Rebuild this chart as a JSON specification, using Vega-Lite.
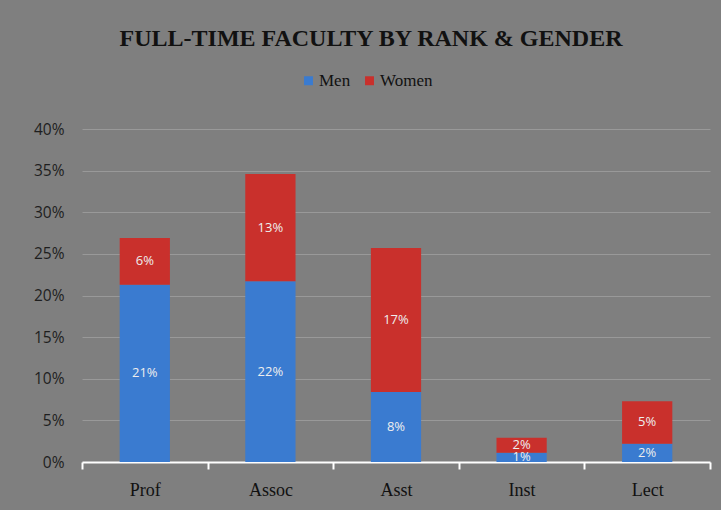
{
  "$schema": "https://vega.github.io/schema/vega-lite/v6.json",
  "width": 628,
  "height": 333,
  "autosize": {"type": "none"},
  "padding": {"left": 82, "top": 129, "right": 11, "bottom": 48},
  "background": "#7f7f7f",
  "config": {"view": {"stroke": null}},
  "title": {
    "text": "FULL-TIME FACULTY BY RANK & GENDER",
    "font": "Liberation Serif",
    "fontSize": 24,
    "fontWeight": "bold",
    "color": "#111111",
    "anchor": "middle",
    "dx": -25,
    "offset": 21
  },
  "data": {
    "values": [
      {"rank": "Prof", "gender": "Men", "share": 0.213},
      {"rank": "Prof", "gender": "Women", "share": 0.056},
      {"rank": "Assoc", "gender": "Men", "share": 0.217},
      {"rank": "Assoc", "gender": "Women", "share": 0.129},
      {"rank": "Asst", "gender": "Men", "share": 0.084},
      {"rank": "Asst", "gender": "Women", "share": 0.173},
      {"rank": "Inst", "gender": "Men", "share": 0.011},
      {"rank": "Inst", "gender": "Women", "share": 0.018},
      {"rank": "Lect", "gender": "Men", "share": 0.022},
      {"rank": "Lect", "gender": "Women", "share": 0.051}
    ]
  },
  "transform": [
    {"stack": "share", "groupby": ["rank"], "sort": [{"field": "gender", "order": "ascending"}], "as": ["y0", "y1"]},
    {"calculate": "(datum.y0 + datum.y1) / 2", "as": "ymid"}
  ],
  "encoding": {
    "x": {
      "field": "rank",
      "type": "nominal",
      "sort": ["Prof", "Assoc", "Asst", "Inst", "Lect"],
      "scale": {"paddingInner": 0, "paddingOuter": 0},
      "axis": {
        "title": null,
        "labelAngle": 0,
        "labelFont": "Liberation Serif",
        "labelFontSize": 18,
        "labelColor": "#111111",
        "labelPadding": 12,
        "domainColor": "#ffffff",
        "domainWidth": 2,
        "tickColor": "#ffffff",
        "tickWidth": 2,
        "tickSize": 7,
        "tickBand": "extent"
      }
    }
  },
  "layer": [
    {
      "mark": {"type": "bar", "width": {"band": 0.4}},
      "encoding": {
        "y": {
          "field": "y0",
          "type": "quantitative",
          "scale": {"domain": [0, 0.4]},
          "axis": {
            "title": null,
            "format": ".0%",
            "values": [0, 0.05, 0.1, 0.15, 0.2, 0.25, 0.3, 0.35, 0.4],
            "domain": false,
            "ticks": false,
            "labelFont": "Open Sans",
            "labelFontSize": 15.5,
            "labelColor": "#1e1e1e",
            "labelPadding": 18,
            "gridColor": "#999999",
            "gridWidth": 1
          }
        },
        "y2": {"field": "y1"},
        "color": {
          "field": "gender",
          "type": "nominal",
          "scale": {"domain": ["Men", "Women"], "range": ["#3a7bd0", "#c9302c"]},
          "legend": {
            "title": null,
            "orient": "none",
            "direction": "horizontal",
            "legendX": 218,
            "legendY": -57,
            "symbolType": "square",
            "symbolSize": 80,
            "symbolStrokeWidth": 0,
            "symbolOpacity": 1,
            "labelFont": "Liberation Serif",
            "labelFontSize": 17,
            "labelColor": "#111111",
            "labelOffset": 2,
            "columnPadding": 10
          }
        }
      }
    },
    {
      "mark": {"type": "text", "font": "Open Sans", "fontSize": 13, "color": "#eeeeee", "baseline": "middle"},
      "encoding": {
        "y": {
          "field": "ymid",
          "type": "quantitative",
          "axis": {
            "title": null,
            "format": ".0%",
            "values": [0, 0.05, 0.1, 0.15, 0.2, 0.25, 0.3, 0.35, 0.4],
            "domain": false,
            "ticks": false,
            "labelFont": "Open Sans",
            "labelFontSize": 15.5,
            "labelColor": "#1e1e1e",
            "labelPadding": 18,
            "gridColor": "#999999",
            "gridWidth": 1
          }
        },
        "text": {"field": "share", "type": "quantitative", "format": ".0%"}
      }
    }
  ]
}
